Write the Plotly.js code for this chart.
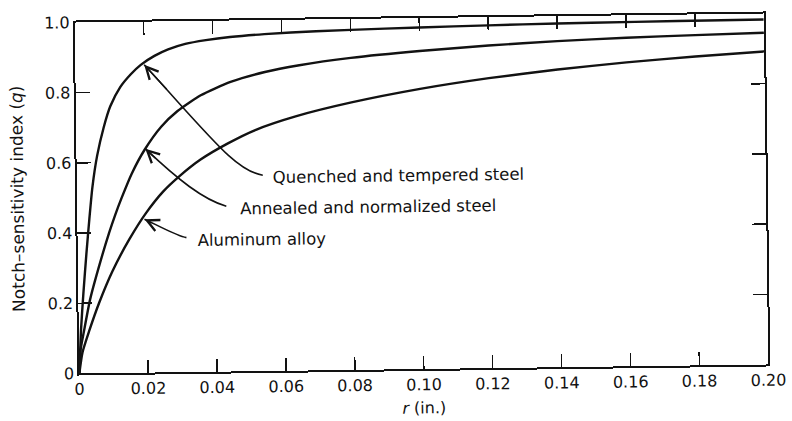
<!DOCTYPE html>
<html>
<head>
<meta charset="utf-8">
<script src="https://cdn.plot.ly/plotly-3.0.1.min.js"></script>
<style>
  html, body { margin: 0; padding: 0; background: #ffffff; overflow: hidden; }
  #chart { width: 792px; height: 421px; transform: rotate(-0.75deg); transform-origin: 421.5px 193.5px; }
</style>
</head>
<body>
<div id="chart"></div>
<script>
// ---- data ----
const seriesNames = ["Quenched and tempered steel", "Annealed and normalized steel", "Aluminum alloy"];

const xQuenched = [0, 0.0007, 0.0015, 0.0025, 0.0035, 0.0045, 0.006, 0.008, 0.010, 0.013, 0.016, 0.019, 0.023, 0.027, 0.032, 0.038, 0.045, 0.055, 0.07, 0.09, 0.11, 0.13, 0.15, 0.175, 0.20];
const qQuenched = [0, 0.13, 0.23, 0.34, 0.44, 0.53, 0.62, 0.70, 0.76, 0.815, 0.85, 0.877, 0.902, 0.92, 0.935, 0.945, 0.953, 0.96, 0.966, 0.971, 0.975, 0.978, 0.98, 0.982, 0.983];

const xAnnealed = [0, 0.0005, 0.0015, 0.0034, 0.0063, 0.0092, 0.011, 0.013, 0.016, 0.0198, 0.0247, 0.0295, 0.0363, 0.045, 0.055, 0.065, 0.08, 0.10, 0.12, 0.14, 0.16, 0.18, 0.20];
const qAnnealed = [0, 0.07, 0.12, 0.21, 0.31, 0.40, 0.45, 0.50, 0.568, 0.635, 0.70, 0.744, 0.788, 0.825, 0.852, 0.870, 0.889, 0.906, 0.919, 0.929, 0.936, 0.941, 0.945];

const xAluminum = [0, 0.001, 0.003, 0.006, 0.010, 0.015, 0.020, 0.025, 0.030, 0.036, 0.044, 0.052, 0.064, 0.08, 0.10, 0.12, 0.14, 0.16, 0.18, 0.20];
const qAluminum = [0, 0.06, 0.12, 0.20, 0.29, 0.38, 0.455, 0.515, 0.56, 0.605, 0.65, 0.687, 0.725, 0.762, 0.798, 0.826, 0.848, 0.866, 0.88, 0.892];

const xTickVals = [0, 0.02, 0.04, 0.06, 0.08, 0.10, 0.12, 0.14, 0.16, 0.18, 0.20];
const xTickText = ["0", "0.02", "0.04", "0.06", "0.08", "0.10", "0.12", "0.14", "0.16", "0.18", "0.20"];
const yTickVals = [0, 0.2, 0.4, 0.6, 0.8, 1.0];
const yTickText = ["0", "0.2", "0.4", "0.6", "0.8", "1.0"];

// leader lines: [tip, control1, control2, end] in data units, and label anchor
const leaderQuenched = [[0.020, 0.877], [0.0395, 0.663], [0.0462, 0.571], [0.0540, 0.558]];
const leaderAnnealed = [[0.020, 0.638], [0.0293, 0.549], [0.0366, 0.491], [0.0433, 0.471]];
const leaderAluminum = [[0.0195, 0.437], [0.0250, 0.411], [0.0287, 0.389], [0.0316, 0.383]];
const labelAnchors = [[0.0563, 0.552], [0.0467, 0.462], [0.0343, 0.374]];

// ---- drawing ----
const ink = "#121212";
const FONT = "DejaVu Sans, Verdana, sans-serif";

function curve(x, y, name) {
  return { x: x, y: y, name: name, type: "scatter", mode: "lines",
    line: { color: ink, width: 2.4, shape: "spline", smoothing: 0.6 },
    hoverinfo: "skip", showlegend: false };
}

const traces = [
  curve(xQuenched, qQuenched, seriesNames[0]),
  curve(xAnnealed, qAnnealed, seriesNames[1]),
  curve(xAluminum, qAluminum, seriesNames[2])
];

const leaders = [leaderQuenched, leaderAnnealed, leaderAluminum];
const shapes = leaders.map(p => ({
  type: "path", xref: "x", yref: "y",
  path: "M " + p[0][0] + "," + p[0][1] + " C " + p[1][0] + "," + p[1][1] + " " +
        p[2][0] + "," + p[2][1] + " " + p[3][0] + "," + p[3][1],
  line: { color: ink, width: 1.6 }
}));

const annotations = [];
leaders.forEach((p, i) => {
  annotations.push({
    x: p[0][0], y: p[0][1], ax: p[0][0] + (p[1][0] - p[0][0]) * 0.35, ay: p[0][1] + (p[1][1] - p[0][1]) * 0.35,
    xref: "x", yref: "y", axref: "x", ayref: "y", text: "", showarrow: true,
    arrowhead: 5, arrowsize: 1.7, arrowwidth: 1.4, arrowcolor: ink, standoff: 0, startstandoff: 0
  });
  annotations.push({
    x: labelAnchors[i][0], y: labelAnchors[i][1], xref: "x", yref: "y",
    text: seriesNames[i], showarrow: false, xanchor: "left", yanchor: "middle",
    font: { family: FONT, size: 16.5, color: ink }
  });
});

const layout = {
  width: 792, height: 421,
  margin: { l: 77, r: 26, t: 18, b: 52 },
  paper_bgcolor: "#ffffff", plot_bgcolor: "#ffffff",
  font: { family: FONT, size: 16, color: ink },
  showlegend: false,
  xaxis: {
    range: [0, 0.2], tickvals: xTickVals, ticktext: xTickText,
    ticks: "inside", ticklen: 13, tickwidth: 1.5, tickcolor: ink,
    showline: true, linecolor: ink, linewidth: 2, mirror: "ticks",
    showgrid: false, zeroline: false, fixedrange: true,
    tickfont: { family: FONT, size: 16, color: ink },
    title: { text: "<i>r</i> (in.)", font: { family: FONT, size: 16, color: ink }, standoff: 9 }
  },
  yaxis: {
    range: [0, 1.0], tickvals: yTickVals, ticktext: yTickText,
    ticks: "inside", ticklen: 14, tickwidth: 1.5, tickcolor: ink,
    showline: true, linecolor: ink, linewidth: 2, mirror: "ticks",
    showgrid: false, zeroline: false, fixedrange: true,
    tickfont: { family: FONT, size: 16, color: ink },
    title: { text: "Notch–sensitivity index (<i>q</i>)", font: { family: FONT, size: 17, color: ink }, standoff: 18 }
  },
  shapes: shapes,
  annotations: annotations
};

Plotly.newPlot("chart", traces, layout, { staticPlot: true, displayModeBar: false });
</script>
</body>
</html>
